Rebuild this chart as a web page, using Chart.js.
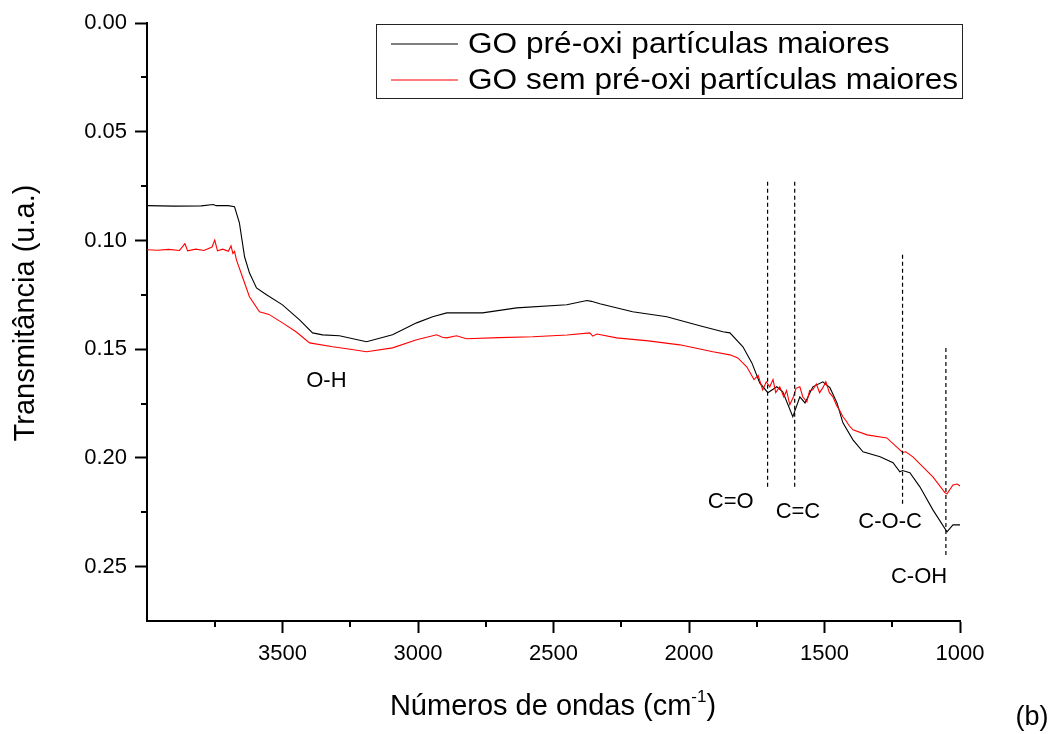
<!DOCTYPE html>
<html>
<head>
<meta charset="utf-8">
<script src="https://cdn.jsdelivr.net/npm/chart.js@4"></script>
<style>
  body { margin: 0; background: #fff; }
  #wrap { width: 1057px; height: 734px; }
</style>
</head>
<body>
<div id="wrap"><canvas id="ftir" width="1057" height="734"></canvas></div>
<script>
// series names
const seriesNames = ['GO pré-oxi partículas maiores', 'GO sem pré-oxi partículas maiores'];

// GO pré-oxi (black)
const waveBlack = [4000, 3900, 3800, 3755, 3745, 3700, 3677, 3659, 3640, 3622, 3596, 3559, 3500, 3437, 3389, 3352, 3290, 3190, 3094, 3005, 2946, 2894, 2821, 2762, 2636, 2451, 2377, 2360, 2329, 2208, 2082, 1960, 1875, 1849, 1801, 1768, 1739, 1709, 1676, 1654, 1617, 1591, 1572, 1543, 1506, 1480, 1454, 1432, 1395, 1358, 1295, 1247, 1222, 1212, 1185, 1148, 1100, 1048, 1026, 1000];
const transBlack = [0.0840, 0.0842, 0.0841, 0.0835, 0.0840, 0.0840, 0.0845, 0.0919, 0.1075, 0.1149, 0.1218, 0.1250, 0.1296, 0.1365, 0.1425, 0.1434, 0.1438, 0.1466, 0.1434, 0.1379, 0.1351, 0.1333, 0.1333, 0.1333, 0.1310, 0.1296, 0.1276, 0.1280, 0.1291, 0.1328, 0.1351, 0.1392, 0.1420, 0.1425, 0.1489, 0.1563, 0.1655, 0.1700, 0.1673, 0.1696, 0.1811, 0.1719, 0.1747, 0.1673, 0.1650, 0.1677, 0.1747, 0.1839, 0.1917, 0.1972, 0.1995, 0.2022, 0.2064, 0.2058, 0.2068, 0.2133, 0.2239, 0.2340, 0.2308, 0.2308];

// GO sem pré-oxi (red)
const waveRed = [4000, 3960, 3920, 3880, 3860, 3850, 3820, 3790, 3760, 3750, 3740, 3720, 3700, 3690, 3683, 3677, 3670, 3648, 3622, 3585, 3550, 3500, 3450, 3400, 3315, 3250, 3190, 3094, 3005, 2931, 2910, 2894, 2858, 2821, 2700, 2577, 2450, 2366, 2355, 2340, 2267, 2150, 2034, 1912, 1849, 1820, 1787, 1760, 1745, 1728, 1715, 1702, 1690, 1680, 1665, 1650, 1640, 1628, 1615, 1605, 1591, 1580, 1565, 1555, 1543, 1530, 1518, 1506, 1495, 1482, 1469, 1455, 1445, 1432, 1420, 1410, 1395, 1343, 1270, 1222, 1212, 1200, 1174, 1100, 1055, 1048, 1026, 1010, 1000];
const transRed = [0.1043, 0.1045, 0.1041, 0.1046, 0.1015, 0.1048, 0.1040, 0.1046, 0.1030, 0.0998, 0.1048, 0.1040, 0.1050, 0.1025, 0.1060, 0.1050, 0.1089, 0.1167, 0.1259, 0.1328, 0.1340, 0.1379, 0.1420, 0.1471, 0.1489, 0.1500, 0.1512, 0.1494, 0.1457, 0.1434, 0.1445, 0.1448, 0.1438, 0.1452, 0.1447, 0.1443, 0.1435, 0.1425, 0.1440, 0.1430, 0.1448, 0.1462, 0.1480, 0.1512, 0.1526, 0.1540, 0.1581, 0.1640, 0.1620, 0.1687, 0.1650, 0.1673, 0.1640, 0.1700, 0.1673, 0.1720, 0.1690, 0.1756, 0.1720, 0.1680, 0.1673, 0.1720, 0.1742, 0.1690, 0.1687, 0.1660, 0.1700, 0.1677, 0.1650, 0.1700, 0.1719, 0.1760, 0.1780, 0.1811, 0.1830, 0.1850, 0.1871, 0.1894, 0.1908, 0.1963, 0.1975, 0.1972, 0.1995, 0.2087, 0.2161, 0.2165, 0.2124, 0.2120, 0.2129];

// band markers (dashed lines)
const markerWave = [1710, 1610, 1212, 1052];
const markerTop = [0.0730, 0.0730, 0.1066, 0.1494];
const markerBottom = [0.2147, 0.2147, 0.2216, 0.2459];

// band labels
const bandText = ['O-H', 'C=O', 'C=C', 'C-O-C', 'C-OH'];
const bandWave = [3338, 1846, 1598, 1258, 1151];
const bandTrans = [0.1645, 0.2203, 0.2248, 0.2294, 0.2547];

// axis ticks
const xTicks = [3500, 3000, 2500, 2000, 1500, 1000];
const xMinor = [3750, 3250, 2750, 2250, 1750, 1250];
const yTicks = [0, 0.05, 0.10, 0.15, 0.20, 0.25];
const yMinor = [0.025, 0.075, 0.125, 0.175, 0.225];

const FONT = "'Liberation Sans', Arial, sans-serif";

function pairs(xs, ys) {
  return xs.map((x, i) => ({ x: x, y: ys[i] }));
}

const datasets = [
  { label: seriesNames[0], data: pairs(waveBlack, transBlack), borderColor: '#000', borderWidth: 1.1, order: 2 },
  { label: seriesNames[1], data: pairs(waveRed, transRed), borderColor: '#ff0000', borderWidth: 1.1, order: 1 }
];
markerWave.forEach((w, i) => {
  datasets.push({
    label: 'marker' + i,
    data: [{ x: w, y: markerTop[i] }, { x: w, y: markerBottom[i] }],
    borderColor: '#000', borderWidth: 1.2, borderDash: [4, 3], order: 0
  });
});

const decor = {
  id: 'decor',
  afterDraw(chart) {
    const ctx = chart.ctx;
    const xs = chart.scales.x, ys = chart.scales.y;
    const area = chart.chartArea;
    ctx.save();
    ctx.strokeStyle = '#000';
    ctx.lineWidth = 2;
    // minor ticks
    ctx.beginPath();
    yMinor.forEach(v => {
      const py = Math.round(ys.getPixelForValue(v));
      ctx.moveTo(area.left, py); ctx.lineTo(area.left - 6, py);
    });
    xMinor.forEach(v => {
      const px = Math.round(xs.getPixelForValue(v));
      ctx.moveTo(px, area.bottom); ctx.lineTo(px, area.bottom + 6);
    });
    ctx.stroke();

    // band labels
    ctx.fillStyle = '#000';
    ctx.font = '22px ' + FONT;
    ctx.textAlign = 'center';
    ctx.textBaseline = 'middle';
    bandText.forEach((t, i) => {
      ctx.fillText(t, xs.getPixelForValue(bandWave[i]), ys.getPixelForValue(bandTrans[i]));
    });

    // legend
    const lx = 376, ly = 24, lw = 586, lh = 74;
    ctx.lineWidth = 1;
    ctx.strokeStyle = '#222';
    ctx.strokeRect(lx + 0.5, ly + 0.5, lw, lh);
    ctx.font = '29px ' + FONT;
    ctx.textAlign = 'left';
    const rows = [44, 80];
    datasets.slice(0, 2).forEach((ds, i) => {
      ctx.strokeStyle = ds.borderColor;
      ctx.lineWidth = 1.2;
      ctx.beginPath();
      ctx.moveTo(391, rows[i]); ctx.lineTo(458, rows[i]);
      ctx.stroke();
      ctx.save();
      ctx.translate(468, rows[i] + 1);
      ctx.scale(1.09, 1);
      ctx.fillStyle = '#000';
      ctx.fillText(seriesNames[i], 0, 0);
      ctx.restore();
    });

    // x title with superscript
    ctx.textBaseline = 'alphabetic';
    const part1 = 'Números de ondas (cm';
    const sup = '-1';
    const part2 = ')';
    ctx.font = '29px ' + FONT;
    const w1 = ctx.measureText(part1).width;
    const w3 = ctx.measureText(part2).width;
    ctx.font = '17px ' + FONT;
    const w2 = ctx.measureText(sup).width;
    const total = w1 + w2 + w3;
    const sx = 553 - total / 2;
    const base = 715;
    ctx.font = '29px ' + FONT;
    ctx.fillText(part1, sx, base);
    ctx.font = '17px ' + FONT;
    ctx.fillText(sup, sx + w1, base - 13);
    ctx.font = '29px ' + FONT;
    ctx.fillText(part2, sx + w1 + w2, base);

    // y title
    ctx.save();
    ctx.translate(26, 313);
    ctx.rotate(-Math.PI / 2);
    ctx.textAlign = 'center';
    ctx.textBaseline = 'middle';
    ctx.font = '29px ' + FONT;
    ctx.fillText('Transmitância (u.a.)', 0, 0);
    ctx.restore();

    // panel tag
    ctx.font = '27px ' + FONT;
    ctx.textAlign = 'center';
    ctx.textBaseline = 'middle';
    ctx.fillText('(b)', 1032, 718);
    ctx.restore();
  }
};

new Chart(document.getElementById('ftir'), {
  type: 'line',
  data: { datasets: datasets },
  options: {
    responsive: false,
    animation: false,
    elements: { point: { radius: 0 }, line: { tension: 0 } },
    layout: { padding: { top: 23, right: 97, left: 0, bottom: 0 } },
    plugins: { legend: { display: false }, tooltip: { enabled: false } },
    scales: {
      x: {
        type: 'linear',
        reverse: true,
        min: 1000,
        max: 4000,
        afterBuildTicks: s => { s.ticks = xTicks.map(v => ({ value: v })); },
        afterFit: s => { s.height = 113; },
        grid: { drawOnChartArea: false, drawTicks: true, tickLength: 12, tickWidth: 2, tickColor: '#000' },
        border: { color: '#000', width: 2 },
        ticks: { color: '#000', font: { family: FONT, size: 22 }, padding: 8, maxRotation: 0, callback: v => String(v) }
      },
      y: {
        type: 'linear',
        reverse: true,
        min: 0,
        max: 0.275,
        afterBuildTicks: s => { s.ticks = yTicks.map(v => ({ value: v })); },
        afterFit: s => { s.width = 147; },
        grid: { drawOnChartArea: false, drawTicks: true, tickLength: 12, tickWidth: 2, tickColor: '#000' },
        border: { color: '#000', width: 2 },
        ticks: { color: '#000', font: { family: FONT, size: 22 }, padding: 8, callback: v => v.toFixed(2) }
      }
    }
  },
  plugins: [decor]
});
</script>
</body>
</html>
